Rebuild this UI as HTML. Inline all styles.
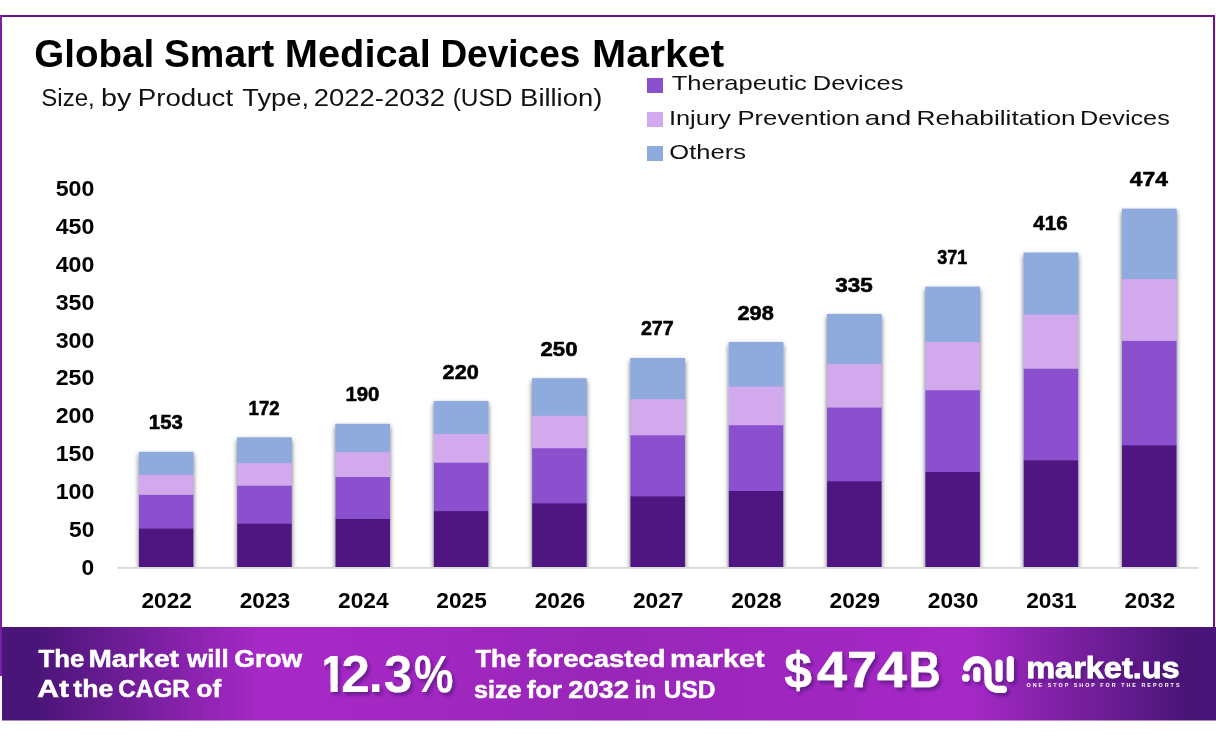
<!DOCTYPE html>
<html lang="en"><head><meta charset="utf-8"><title>Global Smart Medical Devices Market</title>
<style>html,body{margin:0;padding:0;background:#fff;}body{width:1216px;height:734px;overflow:hidden;}svg{display:block;}text{font-family:"Liberation Sans",sans-serif;}</style>
</head><body>
<svg width="1216" height="734" viewBox="0 0 1216 734">
<defs>
<linearGradient id="bg" x1="0" y1="0" x2="1216" y2="0" gradientUnits="userSpaceOnUse">
<stop offset="0" stop-color="#4A1578"/>
<stop offset="0.03" stop-color="#4A1578"/>
<stop offset="0.215" stop-color="#A729C7"/>
<stop offset="0.30" stop-color="#A528C5"/>
<stop offset="0.5" stop-color="#9826B8"/>
<stop offset="0.70" stop-color="#A227C2"/>
<stop offset="0.795" stop-color="#A729C7"/>
<stop offset="0.975" stop-color="#4A1578"/>
<stop offset="1" stop-color="#4A1578"/>
</linearGradient>
<filter id="bsh" x="-20%" y="-5%" width="140%" height="110%"><feDropShadow dx="0" dy="2.5" stdDeviation="2.4" flood-color="#000" flood-opacity="0.62"/></filter>
<filter id="tsh" x="-10%" y="-20%" width="130%" height="150%"><feDropShadow dx="2.5" dy="3" stdDeviation="1.6" flood-color="#3a0a66" flood-opacity="0.55"/></filter>
<clipPath id="c1"><path clip-rule="evenodd" d="M300 630H480V720H300Z M314 685.8H330.5V694H314Z M314 648H324.3V686H314Z M337.7 685.8H342.8V694H337.7Z"/></clipPath>
<clipPath id="cb"><rect x="100" y="150" width="1110" height="417.8"/></clipPath>
</defs>
<rect width="1216" height="734" fill="#fff"/>
<rect x="1" y="16" width="1213" height="640" fill="none" stroke="#6F0F95" stroke-width="2"/>
<rect x="0" y="15" width="2" height="661" fill="#7B1FA2"/>
<rect x="2" y="627" width="1214" height="93.5" fill="url(#bg)"/>
<text y="67.2" font-size="39.5" font-weight="700" fill="#000"><tspan x="34.26" textLength="119.89" lengthAdjust="spacingAndGlyphs">Global</tspan> <tspan x="163.93" textLength="110.23" lengthAdjust="spacingAndGlyphs">Smart</tspan> <tspan x="284.81" textLength="146.00" lengthAdjust="spacingAndGlyphs">Medical</tspan> <tspan x="440.40" textLength="139.91" lengthAdjust="spacingAndGlyphs">Devices</tspan> <tspan x="592.03" textLength="132.23" lengthAdjust="spacingAndGlyphs">Market</tspan></text>
<text y="105.7" font-size="24.4" font-weight="400" fill="#111"><tspan x="41.32" textLength="53.46" lengthAdjust="spacingAndGlyphs">Size,</tspan> <tspan x="101.14" textLength="30.27" lengthAdjust="spacingAndGlyphs">by</tspan> <tspan x="137.72" textLength="95.43" lengthAdjust="spacingAndGlyphs">Product</tspan> <tspan x="242.29" textLength="66.69" lengthAdjust="spacingAndGlyphs">Type,</tspan> <tspan x="313.73" textLength="131.21" lengthAdjust="spacingAndGlyphs">2022-2032</tspan> <tspan x="452.67" textLength="59.67" lengthAdjust="spacingAndGlyphs">(USD</tspan> <tspan x="520.14" textLength="82.13" lengthAdjust="spacingAndGlyphs">Billion)</tspan></text>
<rect x="647" y="78" width="16" height="15" fill="#8B50CE"/>
<text y="90.4" font-size="20.6" font-weight="400" fill="#111"><tspan x="671.72" textLength="135.20" lengthAdjust="spacingAndGlyphs">Therapeutic</tspan> <tspan x="812.80" textLength="90.57" lengthAdjust="spacingAndGlyphs">Devices</tspan></text>
<rect x="647" y="112" width="16" height="15" fill="#D3A9ED"/>
<text y="124.9" font-size="20.6" font-weight="400" fill="#111"><tspan x="668.95" textLength="62.12" lengthAdjust="spacingAndGlyphs">Injury</tspan> <tspan x="737.48" textLength="122.64" lengthAdjust="spacingAndGlyphs">Prevention</tspan> <tspan x="864.81" textLength="46.56" lengthAdjust="spacingAndGlyphs">and</tspan> <tspan x="916.64" textLength="158.97" lengthAdjust="spacingAndGlyphs">Rehabilitation</tspan> <tspan x="1080.02" textLength="89.75" lengthAdjust="spacingAndGlyphs">Devices</tspan></text>
<rect x="647" y="146" width="16" height="15" fill="#8FAADC"/>
<text y="159.2" font-size="20.6" font-weight="400" fill="#111"><tspan x="669.29" textLength="76.63" lengthAdjust="spacingAndGlyphs">Others</tspan></text>
<text x="94.3" y="575.0" font-size="22.8" font-weight="700" fill="#000" text-anchor="end">0</text>
<text x="94.3" y="537.1" font-size="22.8" font-weight="700" fill="#000" text-anchor="end" textLength="25.3" lengthAdjust="spacingAndGlyphs">50</text>
<text x="94.3" y="499.2" font-size="22.8" font-weight="700" fill="#000" text-anchor="end" textLength="38.6" lengthAdjust="spacingAndGlyphs">100</text>
<text x="94.3" y="461.2" font-size="22.8" font-weight="700" fill="#000" text-anchor="end" textLength="38.6" lengthAdjust="spacingAndGlyphs">150</text>
<text x="94.3" y="423.3" font-size="22.8" font-weight="700" fill="#000" text-anchor="end" textLength="38.6" lengthAdjust="spacingAndGlyphs">200</text>
<text x="94.3" y="385.4" font-size="22.8" font-weight="700" fill="#000" text-anchor="end" textLength="38.6" lengthAdjust="spacingAndGlyphs">250</text>
<text x="94.3" y="347.5" font-size="22.8" font-weight="700" fill="#000" text-anchor="end" textLength="38.6" lengthAdjust="spacingAndGlyphs">300</text>
<text x="94.3" y="309.6" font-size="22.8" font-weight="700" fill="#000" text-anchor="end" textLength="38.6" lengthAdjust="spacingAndGlyphs">350</text>
<text x="94.3" y="271.6" font-size="22.8" font-weight="700" fill="#000" text-anchor="end" textLength="38.6" lengthAdjust="spacingAndGlyphs">400</text>
<text x="94.3" y="233.7" font-size="22.8" font-weight="700" fill="#000" text-anchor="end" textLength="38.6" lengthAdjust="spacingAndGlyphs">450</text>
<text x="94.3" y="195.8" font-size="22.8" font-weight="700" fill="#000" text-anchor="end" textLength="38.6" lengthAdjust="spacingAndGlyphs">500</text>
<g filter="url(#bsh)" clip-path="url(#cb)">
<rect x="138.90" y="451.92" width="54.5" height="127.88" fill="#8FAADC"/>
<rect x="237.21" y="437.53" width="54.5" height="142.27" fill="#8FAADC"/>
<rect x="335.52" y="423.89" width="54.5" height="155.91" fill="#8FAADC"/>
<rect x="433.83" y="401.17" width="54.5" height="178.63" fill="#8FAADC"/>
<rect x="532.14" y="378.45" width="54.5" height="201.35" fill="#8FAADC"/>
<rect x="630.45" y="358.00" width="54.5" height="221.80" fill="#8FAADC"/>
<rect x="728.76" y="342.09" width="54.5" height="237.71" fill="#8FAADC"/>
<rect x="827.07" y="314.07" width="54.5" height="265.73" fill="#8FAADC"/>
<rect x="925.38" y="286.80" width="54.5" height="293.00" fill="#8FAADC"/>
<rect x="1023.69" y="252.72" width="54.5" height="327.08" fill="#8FAADC"/>
<rect x="1122.00" y="208.79" width="54.5" height="371.01" fill="#8FAADC"/>
</g>
<rect x="138.90" y="528.17" width="54.5" height="39.93" fill="#4F1681"/>
<rect x="138.90" y="494.45" width="54.5" height="34.02" fill="#8B50CE"/>
<rect x="138.90" y="474.51" width="54.5" height="20.23" fill="#D3A9ED"/>
<rect x="138.90" y="451.92" width="54.5" height="22.90" fill="#8FAADC"/>
<rect x="237.21" y="523.25" width="54.5" height="44.85" fill="#4F1681"/>
<rect x="237.21" y="485.34" width="54.5" height="38.21" fill="#8B50CE"/>
<rect x="237.21" y="462.93" width="54.5" height="22.71" fill="#D3A9ED"/>
<rect x="237.21" y="437.53" width="54.5" height="25.70" fill="#8FAADC"/>
<rect x="335.52" y="518.58" width="54.5" height="49.52" fill="#4F1681"/>
<rect x="335.52" y="476.71" width="54.5" height="42.18" fill="#8B50CE"/>
<rect x="335.52" y="451.96" width="54.5" height="25.05" fill="#D3A9ED"/>
<rect x="335.52" y="423.89" width="54.5" height="28.36" fill="#8FAADC"/>
<rect x="433.83" y="510.81" width="54.5" height="57.29" fill="#4F1681"/>
<rect x="433.83" y="462.32" width="54.5" height="48.79" fill="#8B50CE"/>
<rect x="433.83" y="433.66" width="54.5" height="28.96" fill="#D3A9ED"/>
<rect x="433.83" y="401.17" width="54.5" height="32.79" fill="#8FAADC"/>
<rect x="532.14" y="503.04" width="54.5" height="65.06" fill="#4F1681"/>
<rect x="532.14" y="447.94" width="54.5" height="55.40" fill="#8B50CE"/>
<rect x="532.14" y="415.37" width="54.5" height="32.87" fill="#D3A9ED"/>
<rect x="532.14" y="378.45" width="54.5" height="37.22" fill="#8FAADC"/>
<rect x="630.45" y="496.05" width="54.5" height="72.05" fill="#4F1681"/>
<rect x="630.45" y="435.00" width="54.5" height="61.35" fill="#8B50CE"/>
<rect x="630.45" y="398.91" width="54.5" height="36.39" fill="#D3A9ED"/>
<rect x="630.45" y="358.00" width="54.5" height="41.21" fill="#8FAADC"/>
<rect x="728.76" y="490.61" width="54.5" height="77.49" fill="#4F1681"/>
<rect x="728.76" y="424.93" width="54.5" height="65.98" fill="#8B50CE"/>
<rect x="728.76" y="386.11" width="54.5" height="39.12" fill="#D3A9ED"/>
<rect x="728.76" y="342.09" width="54.5" height="44.31" fill="#8FAADC"/>
<rect x="827.07" y="481.02" width="54.5" height="87.08" fill="#4F1681"/>
<rect x="827.07" y="407.19" width="54.5" height="74.14" fill="#8B50CE"/>
<rect x="827.07" y="363.55" width="54.5" height="43.94" fill="#D3A9ED"/>
<rect x="827.07" y="314.07" width="54.5" height="49.78" fill="#8FAADC"/>
<rect x="925.38" y="471.70" width="54.5" height="96.40" fill="#4F1681"/>
<rect x="925.38" y="389.93" width="54.5" height="82.07" fill="#8B50CE"/>
<rect x="925.38" y="341.60" width="54.5" height="48.63" fill="#D3A9ED"/>
<rect x="925.38" y="286.80" width="54.5" height="55.09" fill="#8FAADC"/>
<rect x="1023.69" y="460.04" width="54.5" height="108.06" fill="#4F1681"/>
<rect x="1023.69" y="368.36" width="54.5" height="91.99" fill="#8B50CE"/>
<rect x="1023.69" y="314.16" width="54.5" height="54.49" fill="#D3A9ED"/>
<rect x="1023.69" y="252.72" width="54.5" height="61.74" fill="#8FAADC"/>
<rect x="1122.00" y="445.02" width="54.5" height="123.08" fill="#4F1681"/>
<rect x="1122.00" y="340.55" width="54.5" height="104.77" fill="#8B50CE"/>
<rect x="1122.00" y="278.80" width="54.5" height="62.05" fill="#D3A9ED"/>
<rect x="1122.00" y="208.79" width="54.5" height="70.31" fill="#8FAADC"/>
<rect x="117.2" y="567" width="1081.4" height="1.8" fill="#D9D9D9"/>
<text x="165.8" y="429.3" font-size="20" font-weight="700" fill="#000" stroke="#000" stroke-width="0.55" text-anchor="middle" textLength="34.0" lengthAdjust="spacingAndGlyphs">153</text>
<text x="166.7" y="608" font-size="22.8" font-weight="700" fill="#000" text-anchor="middle" textLength="50.5" lengthAdjust="spacingAndGlyphs">2022</text>
<text x="264.1" y="414.9" font-size="20" font-weight="700" fill="#000" stroke="#000" stroke-width="0.55" text-anchor="middle" textLength="31.0" lengthAdjust="spacingAndGlyphs">172</text>
<text x="265.0" y="608" font-size="22.8" font-weight="700" fill="#000" text-anchor="middle" textLength="50.5" lengthAdjust="spacingAndGlyphs">2023</text>
<text x="362.4" y="401.3" font-size="20" font-weight="700" fill="#000" stroke="#000" stroke-width="0.55" text-anchor="middle" textLength="34.0" lengthAdjust="spacingAndGlyphs">190</text>
<text x="363.3" y="608" font-size="22.8" font-weight="700" fill="#000" text-anchor="middle" textLength="50.5" lengthAdjust="spacingAndGlyphs">2024</text>
<text x="460.7" y="378.6" font-size="20" font-weight="700" fill="#000" stroke="#000" stroke-width="0.55" text-anchor="middle" textLength="36.2" lengthAdjust="spacingAndGlyphs">220</text>
<text x="461.6" y="608" font-size="22.8" font-weight="700" fill="#000" text-anchor="middle" textLength="50.5" lengthAdjust="spacingAndGlyphs">2025</text>
<text x="559.0" y="355.8" font-size="20" font-weight="700" fill="#000" stroke="#000" stroke-width="0.55" text-anchor="middle" textLength="36.9" lengthAdjust="spacingAndGlyphs">250</text>
<text x="559.9" y="608" font-size="22.8" font-weight="700" fill="#000" text-anchor="middle" textLength="50.5" lengthAdjust="spacingAndGlyphs">2026</text>
<text x="657.3" y="335.4" font-size="20" font-weight="700" fill="#000" stroke="#000" stroke-width="0.55" text-anchor="middle" textLength="32.8" lengthAdjust="spacingAndGlyphs">277</text>
<text x="658.2" y="608" font-size="22.8" font-weight="700" fill="#000" text-anchor="middle" textLength="50.5" lengthAdjust="spacingAndGlyphs">2027</text>
<text x="755.6" y="319.5" font-size="20" font-weight="700" fill="#000" stroke="#000" stroke-width="0.55" text-anchor="middle" textLength="36.3" lengthAdjust="spacingAndGlyphs">298</text>
<text x="756.5" y="608" font-size="22.8" font-weight="700" fill="#000" text-anchor="middle" textLength="50.5" lengthAdjust="spacingAndGlyphs">2028</text>
<text x="853.9" y="291.5" font-size="20" font-weight="700" fill="#000" stroke="#000" stroke-width="0.55" text-anchor="middle" textLength="37.5" lengthAdjust="spacingAndGlyphs">335</text>
<text x="854.8" y="608" font-size="22.8" font-weight="700" fill="#000" text-anchor="middle" textLength="50.5" lengthAdjust="spacingAndGlyphs">2029</text>
<text x="952.2" y="264.2" font-size="20" font-weight="700" fill="#000" stroke="#000" stroke-width="0.55" text-anchor="middle" textLength="30.0" lengthAdjust="spacingAndGlyphs">371</text>
<text x="953.1" y="608" font-size="22.8" font-weight="700" fill="#000" text-anchor="middle" textLength="50.5" lengthAdjust="spacingAndGlyphs">2030</text>
<text x="1050.5" y="230.1" font-size="20" font-weight="700" fill="#000" stroke="#000" stroke-width="0.55" text-anchor="middle" textLength="34.3" lengthAdjust="spacingAndGlyphs">416</text>
<text x="1051.4" y="608" font-size="22.8" font-weight="700" fill="#000" text-anchor="middle" textLength="50.5" lengthAdjust="spacingAndGlyphs">2031</text>
<text x="1148.8" y="186.2" font-size="20" font-weight="700" fill="#000" stroke="#000" stroke-width="0.55" text-anchor="middle" textLength="38.0" lengthAdjust="spacingAndGlyphs">474</text>
<text x="1149.8" y="608" font-size="22.8" font-weight="700" fill="#000" text-anchor="middle" textLength="50.5" lengthAdjust="spacingAndGlyphs">2032</text>
<g fill="#fff" font-weight="700" stroke="#fff" stroke-width="0.5">
<text y="666.6" font-size="24.4" font-weight="700" ><tspan x="38.44" textLength="45.81" lengthAdjust="spacingAndGlyphs">The</tspan> <tspan x="88.41" textLength="90.48" lengthAdjust="spacingAndGlyphs">Market</tspan> <tspan x="187.06" textLength="41.68" lengthAdjust="spacingAndGlyphs">will</tspan> <tspan x="234.34" textLength="67.81" lengthAdjust="spacingAndGlyphs">Grow</tspan></text>
<text y="696.6" font-size="24.4" font-weight="700" ><tspan x="37.35" textLength="31.73" lengthAdjust="spacingAndGlyphs">At</tspan> <tspan x="73.37" textLength="39.90" lengthAdjust="spacingAndGlyphs">the</tspan> <tspan x="118.33" textLength="71.50" lengthAdjust="spacingAndGlyphs">CAGR</tspan> <tspan x="196.56" textLength="24.51" lengthAdjust="spacingAndGlyphs">of</tspan></text>
<text y="667.4" font-size="24.4" font-weight="700" ><tspan x="475.44" textLength="45.40" lengthAdjust="spacingAndGlyphs">The</tspan> <tspan x="526.72" textLength="138.67" lengthAdjust="spacingAndGlyphs">forecasted</tspan> <tspan x="670.13" textLength="94.43" lengthAdjust="spacingAndGlyphs">market</tspan></text>
<text y="697.5" font-size="24.4" font-weight="700" ><tspan x="474.02" textLength="47.60" lengthAdjust="spacingAndGlyphs">size</tspan> <tspan x="526.74" textLength="35.21" lengthAdjust="spacingAndGlyphs">for</tspan> <tspan x="568.24" textLength="60.74" lengthAdjust="spacingAndGlyphs">2032</tspan> <tspan x="634.61" textLength="21.47" lengthAdjust="spacingAndGlyphs">in</tspan> <tspan x="663.83" textLength="51.68" lengthAdjust="spacingAndGlyphs">USD</tspan></text>
<g filter="url(#tsh)">
<text y="691.6" font-size="51.5" stroke="none" clip-path="url(#c1)" x="318.5 341.2 368.6 383.8"><tspan>12.3</tspan><tspan x="414" textLength="39.5" lengthAdjust="spacingAndGlyphs">%</tspan></text>
<text x="784.2" y="686.6" font-size="49.6"><tspan>$</tspan><tspan x="816.9" textLength="90.3" lengthAdjust="spacingAndGlyphs">474</tspan><tspan x="908.8" textLength="31.8" lengthAdjust="spacingAndGlyphs">B</tspan></text>
<g fill="none" stroke="#fff" stroke-width="7.2" stroke-linecap="round" stroke-linejoin="round">
<path d="M966.67 667.7 A10.8 10.8 0 0 1 987.9 670.5 V679.9 A9.4 9.4 0 0 0 997.3 689.3 H1003.4"/>
<path d="M976.8 670.7 L976.8 678.5"/>
<path d="M999.1 663 L999.1 678.3"/>
<path d="M1010.3 659.5 L1010.3 678.3"/>
</g>
<circle cx="965.8" cy="677.8" r="3.9" fill="#fff" stroke="none"/>
<text x="1026.2" y="678" font-size="28.6" stroke-width="0.8" textLength="153.5" lengthAdjust="spacingAndGlyphs">market.us</text>
</g>
<text x="1026.5" y="686.8" font-size="5.4" stroke="none" textLength="153" lengthAdjust="spacing">ONE STOP SHOP FOR THE REPORTS</text>
</g>
</svg></body></html>
